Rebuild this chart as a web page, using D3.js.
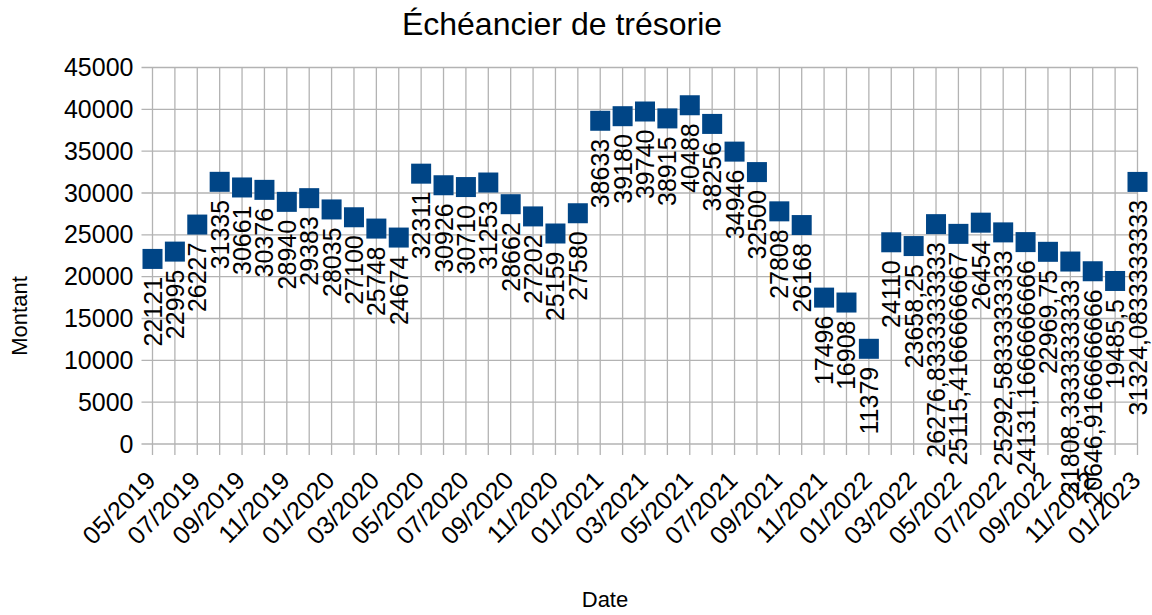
<!DOCTYPE html>
<html>
<head>
<meta charset="utf-8">
<script src="https://cdn.jsdelivr.net/npm/d3@7"></script>
<style>
  body { margin: 0; background: #fff; }
  text { font-family: "Liberation Sans", Arial, sans-serif; fill: #000; }
</style>
</head>
<body>
<svg id="chart" width="1152" height="615"></svg>
<script>
// months (x categories)
var months = ["05/2019", "06/2019", "07/2019", "08/2019", "09/2019", "10/2019", "11/2019", "12/2019",
    "01/2020", "02/2020", "03/2020", "04/2020", "05/2020", "06/2020", "07/2020", "08/2020",
    "09/2020", "10/2020", "11/2020", "12/2020", "01/2021", "02/2021", "03/2021", "04/2021",
    "05/2021", "06/2021", "07/2021", "08/2021", "09/2021", "10/2021", "11/2021", "12/2021",
    "01/2022", "02/2022", "03/2022", "04/2022", "05/2022", "06/2022", "07/2022", "08/2022",
    "09/2022", "10/2022", "11/2022", "12/2022", "01/2023"];

// montant per month
var montants = [22121, 22995, 26227, 31335, 30661, 30376, 28940, 29383,
    28035, 27100, 25748, 24674, 32311, 30926, 30710, 31253,
    28662, 27202, 25159, 27580, 38633, 39180, 39740, 38915,
    40488, 38256, 34946, 32500, 27808, 26168, 17496, 16908,
    11379, 24110, 23658.25, 26276.8333333333, 25115.4166666667, 26454, 25292.5833333333, 24131.1666666666,
    22969.75, 21808.3333333333, 20646.9166666666, 19485.5, 31324.0833333333];

var yTicks = [0, 5000, 10000, 15000, 20000, 25000, 30000, 35000, 40000, 45000];

var plotLeft = 152.5, plotRight = 1137.5, plotTop = 67.5, plotBottom = 444;

var svg = d3.select("#chart");

var x = d3.scalePoint().domain(months).range([plotLeft, plotRight]);
var y = d3.scaleLinear().domain([0, 45000]).range([plotBottom, plotTop]);

// horizontal grid (also the y ticks)
svg.append("g").selectAll("line")
    .data(yTicks)
    .enter().append("line")
    .attr("x1", plotLeft - 11).attr("x2", plotRight)
    .attr("y1", function(d) { return y(d); })
    .attr("y2", function(d) { return y(d); })
    .style("stroke", "#b3b3b3")
    .style("stroke-width", 1.3);

// vertical grid (also the x ticks)
svg.append("g").selectAll("line")
    .data(months)
    .enter().append("line")
    .attr("x1", function(d) { return x(d); })
    .attr("x2", function(d) { return x(d); })
    .attr("y1", plotTop).attr("y2", plotBottom + 11)
    .style("stroke", "#b3b3b3")
    .style("stroke-width", 1.3);

// y axis labels
var yAxis = svg.append("g")
    .attr("transform", "translate(" + plotLeft + ",0)")
    .call(d3.axisLeft(y).tickValues(yTicks).tickSize(0).tickPadding(19).tickFormat(d3.format("d")));
yAxis.select(".domain").remove();
yAxis.selectAll("text")
    .style("font-size", "25px")
    .style("font-family", "'Liberation Sans', Arial, sans-serif");

// x axis labels - every other month, rotated
svg.append("g").selectAll("text")
    .data(months.filter(function(d, i) { return i % 2 == 0; }))
    .enter().append("text")
    .attr("transform", function(d) { return "translate(" + (x(d) + 4.5) + "," + 482 + ") rotate(-45)"; })
    .attr("text-anchor", "end")
    .style("font-size", "25px")
    .text(function(d) { return d; });

// markers
var squareSize = 20;
svg.append("g").selectAll("rect")
    .data(montants)
    .enter().append("rect")
    .attr("x", function(d, i) { return x(months[i]) - squareSize / 2; })
    .attr("y", function(d) { return y(d) - squareSize / 2; })
    .attr("width", squareSize)
    .attr("height", squareSize)
    .style("fill", "#004586");

// value labels, vertical, comma decimals
function fmt(v) {
    var s = v.toFixed(10).replace(/\.?0+$/, "");
    return s.replace(".", ",");
}
svg.append("g").selectAll("text")
    .data(montants)
    .enter().append("text")
    .attr("transform", function(d, i) { return "translate(" + x(months[i]) + "," + (y(d) + 18) + ") rotate(-90)"; })
    .attr("text-anchor", "end")
    .attr("dy", "0.36em")
    .style("font-size", "25px")
    .text(function(d) { return fmt(d); });

// title + axis titles
svg.append("text")
    .attr("x", 562).attr("y", 35)
    .attr("text-anchor", "middle")
    .style("font-size", "32px")
    .text("Échéancier de trésorie");

svg.append("text")
    .attr("transform", "translate(27,316) rotate(-90)")
    .attr("text-anchor", "middle")
    .style("font-size", "22px")
    .text("Montant");

svg.append("text")
    .attr("x", 605).attr("y", 607)
    .attr("text-anchor", "middle")
    .style("font-size", "22px")
    .text("Date");
</script>
</body>
</html>
